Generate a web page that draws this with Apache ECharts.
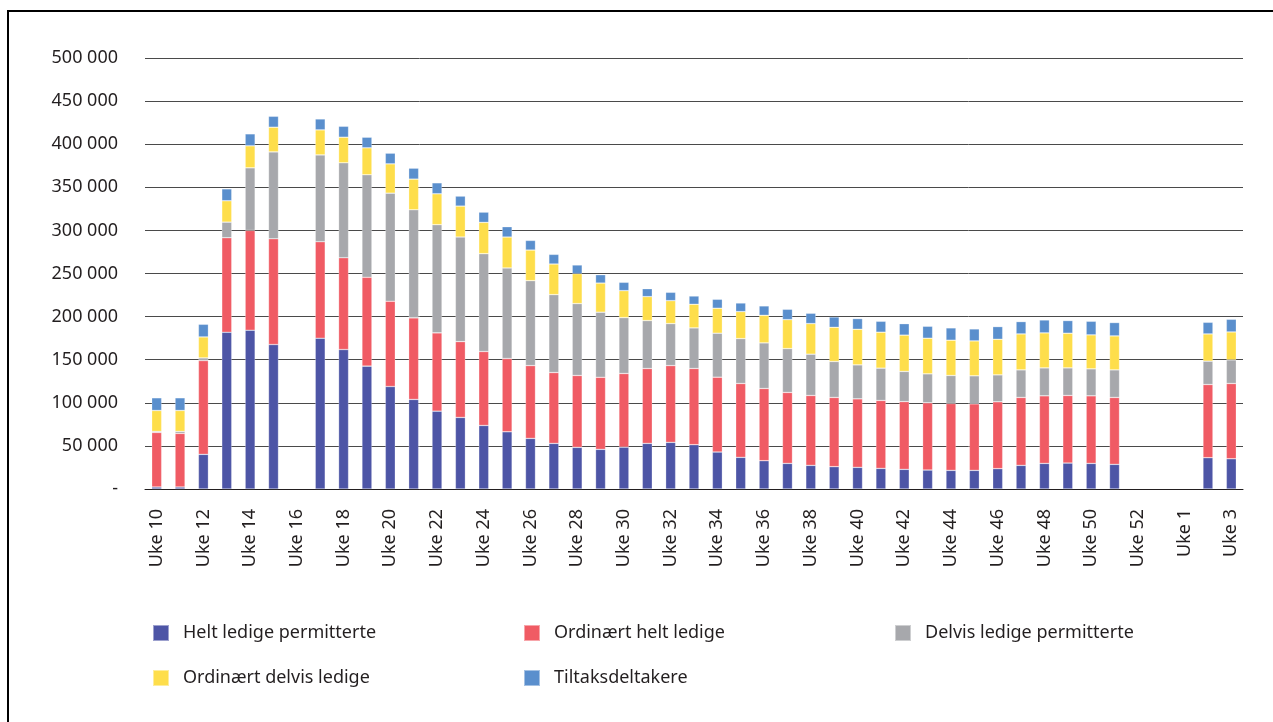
<!DOCTYPE html>
<html>
<head>
<meta charset="utf-8">
<script src="https://cdn.jsdelivr.net/npm/echarts@6/dist/echarts.min.js"></script>
<style>
html,body{margin:0;padding:0;background:#fff;}
#chart{width:1273px;height:722px;}
</style>
</head>
<body>
<div id="chart"></div>
<script>
const categories = ['Uke 10','Uke 11','Uke 12','Uke 13','Uke 14','Uke 15','Uke 16','Uke 17','Uke 18','Uke 19',
  'Uke 20','Uke 21','Uke 22','Uke 23','Uke 24','Uke 25','Uke 26','Uke 27','Uke 28','Uke 29',
  'Uke 30','Uke 31','Uke 32','Uke 33','Uke 34','Uke 35','Uke 36','Uke 37','Uke 38','Uke 39',
  'Uke 40','Uke 41','Uke 42','Uke 43','Uke 44','Uke 45','Uke 46','Uke 47','Uke 48','Uke 49',
  'Uke 50','Uke 51','Uke 52','Uke 53','Uke 1','Uke 2','Uke 3'];

const heltLedigePermitterte = [2300,2300,40200,181800,184200,167600,null,174900,161800,142500,
  118900,103900,90300,83000,73700,66400,58700,52900,48300,46000,
  48600,52900,54100,51400,42900,36700,32800,29700,27400,25900,
  25100,23900,22800,22000,21600,21600,23600,27400,29700,30100,
  29700,28600,null,null,null,36300,35100];

const ordinaertHeltLedige = [63300,62200,108800,109700,115800,122700,null,112000,106500,103100,
  98900,94600,90800,88000,85800,85000,84500,82200,83400,83600,
  85400,86900,89100,88400,86800,85700,83800,82300,81100,80300,
  79500,78800,78600,78000,77600,77200,77600,78800,78400,78400,
  78400,77600,null,null,null,84900,87300];

const delvisLedigePermitterte = [1200,2300,3100,18100,72600,100800,null,100700,110100,118900,
  125400,125400,125500,121300,113500,105000,98500,90400,83400,75500,
  64800,55600,48700,47100,51000,52100,52900,50900,47900,41700,
  39400,37500,35000,33600,32500,32500,31200,32000,32400,32000,
  31300,32000,null,null,null,27100,27400];

const ordinaertDelvisLedige = [24300,24300,24300,24800,25500,28600,null,29000,29700,31300,
  34000,35600,35900,35900,36300,35900,35500,35500,34700,33800,
  31300,27800,26600,27400,29000,31300,32000,33600,35500,39700,
  41300,41700,42100,41300,40900,40500,41300,41700,40600,40200,
  39400,39400,null,null,null,31600,32400];

const tiltaksdeltakere = [14700,14700,14700,13800,13900,12700,null,12700,12700,12300,
  12400,12700,12700,11600,11900,12000,11200,11200,10100,9700,
  9700,9200,9700,9600,10400,10000,10900,12000,12000,12000,
  12400,12700,13300,13900,14300,13900,14700,14300,15000,14700,
  15800,15500,null,null,null,13500,14700];

const seriesNames = ['Helt ledige permitterte','Ordinært helt ledige','Delvis ledige permitterte','Ordinært delvis ledige','Tiltaksdeltakere'];
const seriesData = [heltLedigePermitterte, ordinaertHeltLedige, delvisLedigePermitterte, ordinaertDelvisLedige, tiltaksdeltakere];
const colors = ['#4d55a6','#f05b64','#a7a8ac','#fede4b','#5a8fcd'];

const FONT = '"Noto Sans", sans-serif';
const chart = echarts.init(document.getElementById('chart'), null, {renderer:'canvas'});

function legendFor(names, left, top){
  return {
    data: names, left: left, top: top, orient: 'vertical', padding: 0,
    itemGap: 27, itemWidth: 16, itemHeight: 16, icon: 'rect',
    selectedMode: false,
    textStyle: {fontFamily: FONT, fontSize: 18, color: '#231f20', padding: [0,0,0,9]}
  };
}

chart.setOption({
  animation: false,
  color: colors,
  textStyle: {fontFamily: FONT},
  grid: {left: 145, right: 30, top: 58, bottom: 233, containLabel: false},
  graphic: [{
    type: 'polyline', silent: true,
    shape: {points: [[8,722],[8,11],[1273,11]]},
    style: {stroke: '#000', lineWidth: 2, fill: null}
  }],
  legend: [
    legendFor(['Helt ledige permitterte','Ordinært delvis ledige'], 152, 624),
    legendFor(['Ordinært helt ledige','Tiltaksdeltakere'], 523, 624),
    legendFor(['Delvis ledige permitterte'], 894, 624)
  ],
  xAxis: {
    type: 'category', data: categories,
    axisLine: {show: true, lineStyle: {color: '#231f20', width: 1}},
    axisTick: {show: false},
    axisLabel: {interval: 1, rotate: 90, margin: 20, fontSize: 18, color: '#231f20', fontFamily: FONT}
  },
  yAxis: {
    type: 'value', min: 0, max: 500000, interval: 50000,
    axisLine: {show: false}, axisTick: {show: false},
    splitLine: {lineStyle: {color: '#4a4a4a', width: 1}},
    axisLabel: {margin: 27, fontSize: 18, color: '#231f20', fontFamily: FONT,
      formatter: v => v === 0 ? '-' : String(v).replace(/\B(?=(\d{3})+(?!\d))/g, ' ')}
  },
  series: seriesNames.map((n, i) => ({
    name: n, type: 'bar', stack: 'total', barWidth: 10,
    data: seriesData[i],
    itemStyle: {color: colors[i], borderColor: 'rgba(255,255,255,0.45)', borderWidth: 0.6}
  }))
});
</script>
</body>
</html>
